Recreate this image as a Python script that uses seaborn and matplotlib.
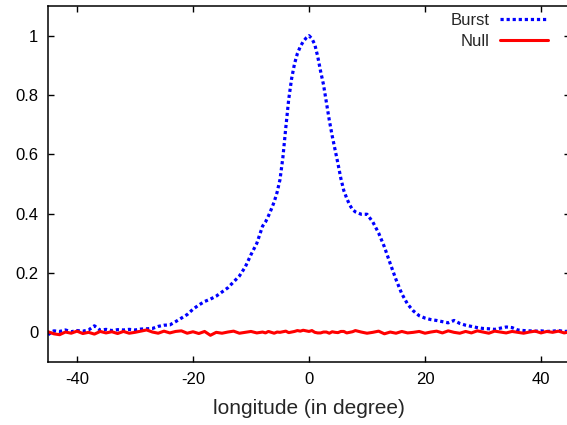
import numpy as np
import pandas as pd
import seaborn as sns
import matplotlib
matplotlib.use("Agg")
import matplotlib.pyplot as plt

sns.set_style("ticks")
plt.rcParams["font.family"] = ["Liberation Sans", "DejaVu Sans"]

# Pulse longitude in degrees: 1-degree bins in the wings, half-degree bins across the main peak
longitude = (list(range(-45, -8))
             + [v / 2 for v in range(-16, 17)]
             + list(range(9, 46)))

# Normalised average profile of the burst pulses
burst = [
    # -45 .. -9
    -0.008, 0.005, 0.003, 0.008, 0.002, 0.006, 0.004, 0.008, 0.022, 0.007,
    0.010, 0.006, 0.009, 0.008, 0.010, 0.008, 0.011, 0.012, 0.013, 0.020,
    0.024, 0.025, 0.036, 0.048, 0.060, 0.078, 0.092, 0.104, 0.112, 0.122,
    0.136, 0.150, 0.170, 0.190, 0.220, 0.262, 0.300,
    # -8 .. 8 in half degrees
    0.358, 0.372, 0.392, 0.415, 0.440, 0.472, 0.515, 0.590, 0.690, 0.785,
    0.855, 0.905, 0.940, 0.963, 0.980, 0.992, 1.000, 0.990, 0.970, 0.930,
    0.880, 0.835, 0.775, 0.715, 0.662, 0.615, 0.568, 0.518, 0.478, 0.452,
    0.430, 0.414, 0.406,
    # 9 .. 45
    0.398, 0.398, 0.372, 0.335, 0.288, 0.232, 0.178, 0.130, 0.095, 0.072,
    0.056, 0.048, 0.043, 0.040, 0.036, 0.032, 0.040, 0.030, 0.024, 0.020,
    0.016, 0.013, 0.012, 0.010, 0.014, 0.018, 0.016, 0.008, 0.006, 0.005,
    0.004, 0.005, 0.003, 0.004, 0.006, 0.003, 0.004,
]

# Normalised average profile of the null pulses
null = [
    # -45 .. -9
    0.002, -0.005, -0.008, 0.001, -0.003, 0.004, -0.004, 0.000, -0.006, 0.003,
    -0.002, 0.002, -0.004, 0.003, -0.003, 0.000, 0.004, 0.008, 0.001, -0.003,
    0.004, -0.002, 0.003, 0.005, -0.003, 0.002, -0.004, 0.003, -0.010, 0.000,
    -0.003, 0.001, 0.004, -0.003, 0.000, 0.003, -0.002,
    # -8 .. 8 in half degrees
    0.001, -0.002, 0.003, 0.000, -0.003, 0.001, 0.000, 0.002, 0.004, -0.001,
    0.001, 0.003, 0.006, 0.004, 0.007, 0.005, 0.003, 0.006, 0.000, -0.002,
    -0.002, 0.001, 0.001, -0.003, 0.002, 0.000, -0.001, 0.003, 0.003, -0.002,
    0.000, 0.002, 0.006,
    # 9 .. 45
    0.001, -0.003, 0.000, 0.004, -0.005, 0.001, -0.003, 0.003, -0.002, 0.000,
    0.003, -0.003, 0.001, 0.004, -0.002, 0.005, 0.000, -0.003, 0.003, -0.002,
    0.005, 0.001, -0.003, 0.004, 0.001, -0.002, 0.003, 0.000, -0.003, 0.001,
    0.004, -0.002, 0.003, 0.000, 0.004, -0.002, 0.002,
]

x_ticks = [-40, -20, 0, 20, 40]
y_ticks = [0, 0.2, 0.4, 0.6, 0.8, 1]
y_tick_labels = ["0", "0.2", "0.4", "0.6", "0.8", "1"]

W, H = 567, 425
fig = plt.figure(figsize=(W / 100, H / 100), dpi=100)
ax = fig.add_axes([48 / W, (H - 362) / H, (570 - 48) / W, (362 - 6) / H])

df = pd.DataFrame({"longitude": longitude, "Burst": burst, "Null": null})

sns.lineplot(data=df, x="longitude", y="Burst", ax=ax, color="#0000ff",
             linewidth=2.3, linestyle=(0, (1.0, 0.9)), label="Burst")
sns.lineplot(data=df, x="longitude", y="Null", ax=ax, color="#ff0000",
             linewidth=2.2, label="Null")

ax.set_xlim(-45, 45)
ax.set_ylim(-0.1, 1.1)
ax.set_xticks(x_ticks)
ax.set_xticklabels([str(t) for t in x_ticks])
ax.set_yticks(y_ticks)
ax.set_yticklabels(y_tick_labels)
ax.tick_params(direction="in", length=4.5, width=1.0, labelsize=12,
               top=True, right=True, pad=7, colors="black")
for side in ax.spines.values():
    side.set_linewidth(1.1)
    side.set_color("black")

ax.set_xlabel("longitude (in degree)", fontsize=15, labelpad=9)
ax.set_ylabel("")

leg = ax.legend(loc="upper right", bbox_to_anchor=(548 / W, 1 - 13 / H),
                bbox_transform=fig.transFigure, frameon=False, fontsize=12,
                markerfirst=False, handlelength=2.9, handletextpad=0.6,
                labelspacing=0.35, borderpad=0, borderaxespad=0)

fig.savefig("out.png", dpi=100)
